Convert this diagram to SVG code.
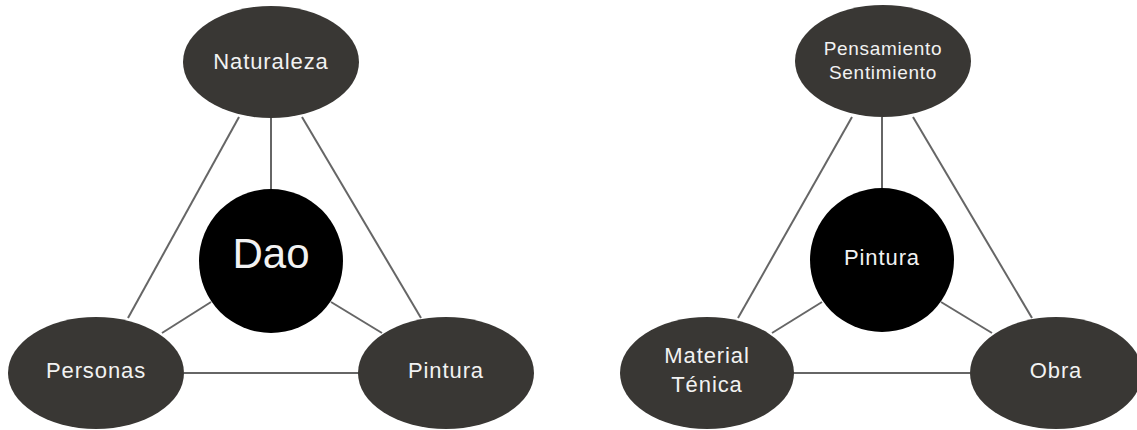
<svg xmlns="http://www.w3.org/2000/svg" width="1137" height="430" viewBox="0 0 1137 430">
<style>
.node{fill:#393734}
.core{fill:#000}
.lbl{font-family:"Liberation Sans",Arial,sans-serif;fill:#f2f2f2;text-anchor:middle;font-size:22px;letter-spacing:0.9px}
.small{font-size:19px;letter-spacing:0.7px}
.big{font-size:42px;letter-spacing:0}
#connectors line{stroke:#666;stroke-width:2}
</style>
<rect width="1137" height="430" fill="#fff"/>
<g id="connectors">
<line x1="239" y1="117" x2="128" y2="318"/>
<line x1="302" y1="117" x2="421" y2="318"/>
<line x1="271" y1="117" x2="271" y2="189"/>
<line x1="211" y1="302" x2="162" y2="333"/>
<line x1="331" y1="302" x2="382" y2="333"/>
<line x1="184" y1="373" x2="359" y2="373"/>
<line x1="852" y1="117" x2="738" y2="318"/>
<line x1="913" y1="117" x2="1032" y2="318"/>
<line x1="882" y1="117" x2="882" y2="189"/>
<line x1="822" y1="302" x2="772" y2="333"/>
<line x1="941" y1="302" x2="992" y2="333"/>
<line x1="793" y1="373" x2="970" y2="373"/>
</g>
<g id="naturaleza"><ellipse class="node" cx="271" cy="62" rx="88" ry="56"/><text class="lbl" x="271" y="69">Naturaleza</text></g>
<g id="dao"><circle class="core" cx="271" cy="261" r="72"/><text class="lbl big" x="271" y="268">Dao</text></g>
<g id="personas"><ellipse class="node" cx="96" cy="373" rx="88" ry="56"/><text class="lbl" x="96" y="378">Personas</text></g>
<g id="pintura-left"><ellipse class="node" cx="446" cy="373" rx="88" ry="56"/><text class="lbl" x="446" y="378">Pintura</text></g>
<g id="pensamiento"><ellipse class="node" cx="883" cy="61" rx="88" ry="56"/><text class="lbl small" x="883" y="55">Pensamiento</text><text class="lbl small" x="883" y="79">Sentimiento</text></g>
<g id="pintura-center"><circle class="core" cx="882" cy="260" r="72"/><text class="lbl" x="882" y="265">Pintura</text></g>
<g id="material"><ellipse class="node" cx="707" cy="373" rx="87" ry="56"/><text class="lbl" x="707" y="363">Material</text><text class="lbl" x="707" y="392">Ténica</text></g>
<g id="obra"><ellipse class="node" cx="1056" cy="373" rx="86" ry="56"/><text class="lbl" x="1056" y="378">Obra</text></g>
</svg>
